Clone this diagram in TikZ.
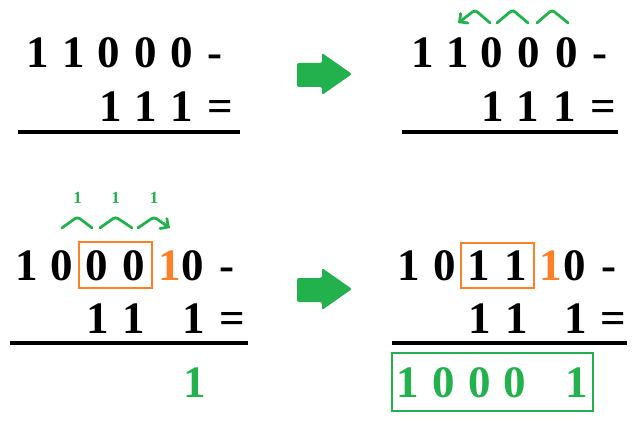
\documentclass[tikz,border=0pt]{standalone}
\usepackage{fontspec}
\setmainfont{Liberation Serif}
\usetikzlibrary{arrows,calc,fit}
\definecolor{pgreen}{RGB}{34,177,76}
\definecolor{porange}{RGB}{255,127,39}

\begin{document}
\begin{tikzpicture}[x=1pt,y=-1pt,>=angle 90]

	\tikzstyle{dig}=[anchor=base,inner sep=0pt,font=\fontsize{45}{45}\selectfont\bfseries]
	\tikzstyle{borrowed}=[dig,text=porange]
	\tikzstyle{result}=[dig,text=pgreen]
	\tikzstyle{rule}=[line width=4pt]
	\tikzstyle{borrow}=[draw=pgreen,line width=2.8pt,rounded corners=3pt,line cap=round]
	\tikzstyle{carry}=[above=12pt,inner sep=0pt,text=pgreen,font=\fontsize{17}{17}\selectfont\bfseries]
	\tikzstyle{frame}=[draw,line width=2pt,inner xsep=6.5pt,inner ysep=7.5pt]

	\useasboundingbox (0,0) rectangle (640,422);

	\node [dig] (Am1) at (38,68) {1};
	\node [dig] (Am2) at (74,68) {1};
	\node [dig] (Am3) at (109,68) {0};
	\node [dig] (Am4) at (146,68) {0};
	\node [dig] (Am5) at (182,68) {0};
	\node [dig] (Amm) at (215,68) {-};
	\node [dig] (As3) at (111,122) {1};
	\node [dig] (As4) at (146,122) {1};
	\node [dig] (As5) at (182,122) {1};
	\node [dig] (Aeq) at (220,122) {=};
	\draw [rule] (18,132) -- (240,132);

	\fill [pgreen,rounded corners=2pt] (297,63) -- (322,63) -- (322,53) -- (352,74) -- (322,95) -- (322,87) -- (297,87) -- cycle;

	\node [dig] (Bm1) at (423,68) {1};
	\node [dig] (Bm2) at (458,68) {1};
	\node [dig] (Bm3) at (492,68) {0};
	\node [dig] (Bm4) at (529,68) {0};
	\node [dig] (Bm5) at (567,68) {0};
	\node [dig] (Bmm) at (600,68) {-};
	\node [dig] (Bs3) at (493,122) {1};
	\node [dig] (Bs4) at (528,122) {1};
	\node [dig] (Bs5) at (565,122) {1};
	\node [dig] (Beq) at (603,122) {=};
	\draw [rule] (402,132) -- (618,132);

	\draw [borrow,->] ([shift={(-2,-15)}]Bm3.north) -- ($(Bm3.north)!0.5!(Bm2.north)+(0,-28)$) -- ([shift={(0,-15)}]Bm2.north);
	\draw [borrow] ([shift={(5,-15)}]Bm3.north) -- ($(Bm3.north)!0.5!(Bm4.north)+(2,-28)$) -- ([shift={(-1,-15)}]Bm4.north);
	\draw [borrow] ([shift={(8,-15)}]Bm4.north) -- ($(Bm4.north)!0.5!(Bm5.north)+(4,-28)$) -- ([shift={(1,-15)}]Bm5.north);

	\node [dig] (Cm1) at (27,280) {1};
	\node [dig] (Cm2) at (62,280) {0};
	\node [dig] (Cm3) at (97,280) {0};
	\node [dig] (Cm4) at (134,280) {0};
	\node [borrowed] (Cm5) at (170,280) {1};
	\node [dig] (Cm6) at (193,280) {0};
	\node [dig] (Cmm) at (227,280) {-};
	\node [dig] (Cs3) at (98,333) {1};
	\node [dig] (Cs4) at (134,333) {1};
	\node [dig] (Cs6) at (194,333) {1};
	\node [dig] (Ceq) at (232,333) {=};
	\draw [rule] (10,343) -- (248,343);
	\node [frame,draw=porange,fit=(Cm3)(Cm4)] (Cbox) {};
	\node [result] (Cr6) at (195,397) {1};

	\draw [borrow] ([shift={(0,-22)}]Cm2.north) -- ($(Cm2.north)!0.5!(Cm3.north)+(-2,-33)$) node [carry] {1} -- ([shift={(-5,-22)}]Cm3.north);
	\draw [borrow] ([shift={(3,-22)}]Cm3.north) -- ($(Cm3.north)!0.5!(Cm4.north)+(0,-33)$) node [carry] {1} -- ([shift={(-2,-22)}]Cm4.north);
	\draw [borrow,->] ([shift={(4,-22)}]Cm4.north) -- ($(Cm4.north)!0.5!(Cm5.north)+(2,-33)$) node [carry] {1} -- ([shift={(0,-22)}]Cm5.north);

	\fill [pgreen,rounded corners=2pt] (297,278) -- (322,278) -- (322,268) -- (352,289) -- (322,310) -- (322,302) -- (297,302) -- cycle;

	\node [dig] (Dm1) at (409,280) {1};
	\node [dig] (Dm2) at (445,280) {0};
	\node [dig] (Dm3) at (479,280) {1};
	\node [dig] (Dm4) at (516,280) {1};
	\node [borrowed] (Dm5) at (551,280) {1};
	\node [dig] (Dm6) at (575,280) {0};
	\node [dig] (Dmm) at (609,280) {-};
	\node [dig] (Ds3) at (480,333) {1};
	\node [dig] (Ds4) at (517,333) {1};
	\node [dig] (Ds6) at (576,333) {1};
	\node [dig] (Deq) at (613,333) {=};
	\draw [rule] (392,343) -- (627,343);
	\node [frame,draw=porange,fit=(Dm3)(Dm4)] (Dbox) {};

	\node [result] (Dr1) at (408,397) {1};
	\node [result] (Dr2) at (444,397) {0};
	\node [result] (Dr3) at (480,397) {0};
	\node [result] (Dr4) at (515,397) {0};
	\node [result] (Dr6) at (577,397) {1};
	\node [frame,draw=pgreen,inner xsep=5pt,inner ysep=14pt,fit=(Dr1)(Dr6)] (Dbox2) {};

\end{tikzpicture}
\end{document}
